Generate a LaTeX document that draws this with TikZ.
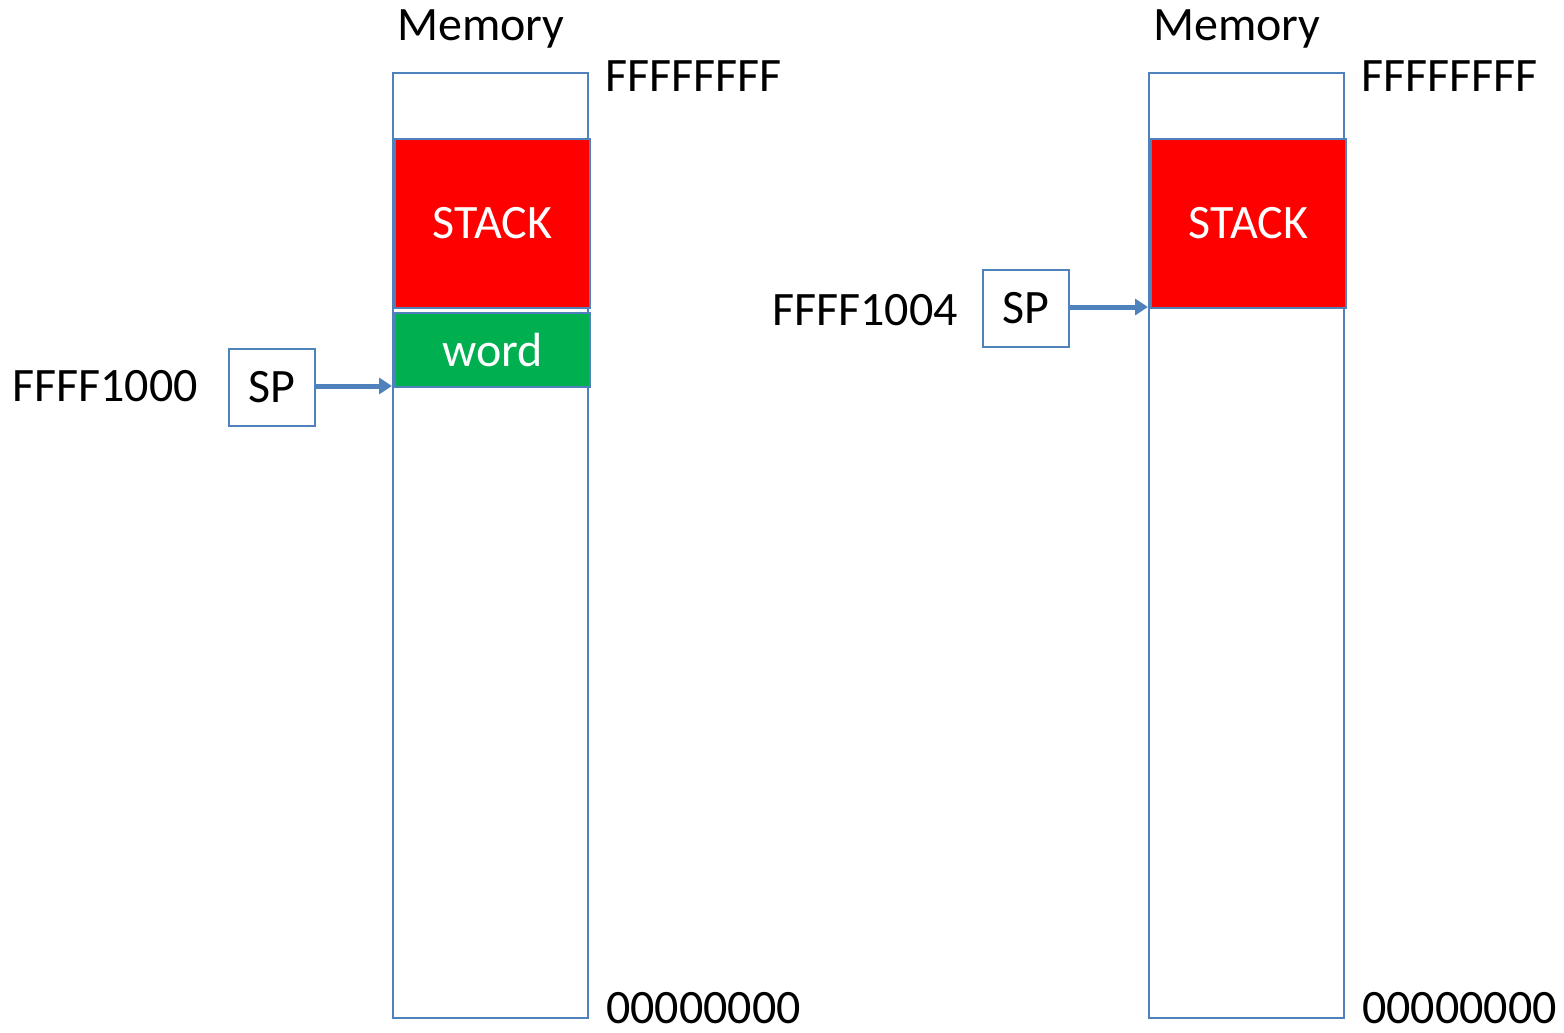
\documentclass[tikz,border=0pt]{standalone}
\usepackage{fontspec}
\setmainfont{Carlito}
\usetikzlibrary{arrows.meta}
\definecolor{lineblue}{HTML}{4F81BD}
\definecolor{stackred}{HTML}{FF0000}
\definecolor{wordgreen}{HTML}{00B050}
\begin{document}
\begin{tikzpicture}[x=1pt,y=1pt,
  txt/.style={font=\fontsize{48}{56}\selectfont, inner sep=0pt},
  membox/.style={draw=lineblue, line width=2pt, anchor=north west, inner sep=0pt, minimum width=195pt, minimum height=945pt},
  stackbox/.style={draw=lineblue, line width=2pt, fill=stackred, anchor=north west, inner sep=0pt, minimum width=195pt, minimum height=169pt, text=white, font=\fontsize{48}{56}\selectfont},
  wordbox/.style={draw=lineblue, line width=2pt, fill=wordgreen, anchor=north west, inner sep=0pt, minimum width=195pt, minimum height=74pt, text=white, font=\fontsize{48}{56}\selectfont},
  spbox/.style={draw=lineblue, line width=2pt, fill=white, anchor=north west, inner sep=0pt, minimum width=86pt, minimum height=77pt, font=\fontsize{48}{56}\selectfont},
  ptr/.style={draw=lineblue, line width=5pt, -{Triangle[length=13pt,width=16pt]}}
]
\useasboundingbox (0,0) rectangle (1564,-1033);
% left
\node[membox] (mem1) at (392,-72) {};
\node[stackbox] (stack1) at (394,-138) {STACK};
\node[wordbox] (word1) at (394,-312) {word};
\node[spbox] (sp1) at (228,-348) {SP};
\coordinate (sp1tip) at (392,-386);
\draw[ptr] (sp1.east |- sp1tip) -- (sp1tip);
\node[txt] (mlab1) at (481,-29) {Memory};
\node[txt, anchor=west] (top1) at (605,-76) {FFFFFFFF};
\node[txt, anchor=west] (bot1) at (606,-1008) {00000000};
\node[txt, anchor=east] (addr1) at (198,-386) {FFFF1000};
% right
\node[membox] (mem2) at (1148,-72) {};
\node[stackbox] (stack2) at (1150,-138) {STACK};
\node[spbox] (sp2) at (982,-269) {SP};
\coordinate (sp2tip) at (1148,-307);
\draw[ptr] (sp2.east |- sp2tip) -- (sp2tip);
\node[txt] (mlab2) at (1237,-29) {Memory};
\node[txt, anchor=west] (top2) at (1361,-76) {FFFFFFFF};
\node[txt, anchor=west] (bot2) at (1362,-1008) {00000000};
\node[txt, anchor=east] (addr2) at (958,-310) {FFFF1004};
\end{tikzpicture}
\end{document}
